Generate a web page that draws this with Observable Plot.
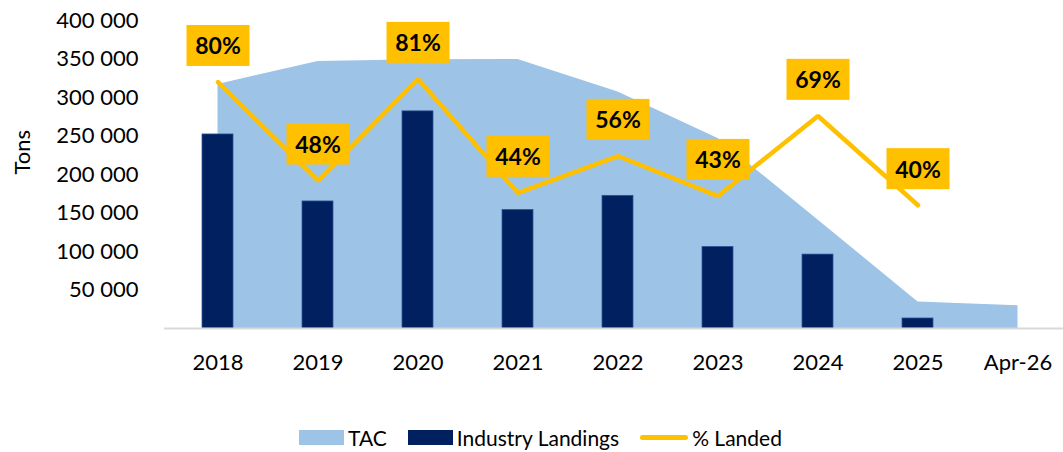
<!DOCTYPE html>
<html><head><meta charset="utf-8">
<script src="https://cdn.jsdelivr.net/npm/d3@7"></script>
<script src="https://cdn.jsdelivr.net/npm/@observablehq/plot@0.6"></script>
<style>
body{margin:0;background:#fff;overflow:hidden;font-family:Lato,"Open Sans",sans-serif;}
#legend{height:34px;display:flex;align-items:center;padding-left:299px;font-size:21px;color:#000;}
#legend .sw{display:inline-block;width:45px;height:15px;margin-right:4px;}
#legend .ln{display:inline-block;width:48px;height:5px;border-radius:3px;margin-right:4px;}
#legend .item{display:flex;align-items:center;margin-right:21px;}
</style></head><body>
<div id="chart"></div>
<div id="legend"></div>
<script>
const categories = ["2018","2019","2020","2021","2022","2023","2024","2025","Apr-26"];
const tac = [316900, 346800, 349000, 349400, 307000, 246700, 141000, 34500, 29500];
const landings = [252000, 165000, 282000, 154000, 172300, 106000, 96000, 13000];
const pctLanded = [80, 48, 81, 44, 56, 43, 69, 40];
const yTicks = [50000, 100000, 150000, 200000, 250000, 300000, 350000, 400000];
const seriesNames = ["TAC", "Industry Landings", "% Landed"];

const colTAC = "#9DC3E6", colLand = "#002060", colPct = "#FFC000";
const PCT_TO_TONS = 400000 / 100; // secondary axis 0–100% mapped onto 0–400 000

const tacData = categories.map((c, i) => ({cat: c, v: tac[i]}));
const landData = landings.map((v, i) => ({cat: categories[i], v}));
const pctData = pctLanded.map((p, i) => ({cat: categories[i], p}));
const fmt = d => d3.format(",")(d).replace(/,/g, " ");

const plot = Plot.plot({
  width: 1063, height: 420,
  marginLeft: 164, marginRight: 0, marginTop: 20, marginBottom: 92,
  style: {fontFamily: "Lato, 'Open Sans', sans-serif", fontSize: "22px", color: "#000", background: "#fff"},
  x: {domain: categories, range: [164, 1071], paddingInner: 0.69, paddingOuter: 0.345, label: null},
  y: {domain: [0, 400000], label: null},
  marks: [
    Plot.areaY(tacData, {x: "cat", y: "v", fill: colTAC}),
    Plot.barY(landData, {x: "cat", y: "v", fill: colLand, stroke: "#2F5597", strokeWidth: 0.75}),
    Plot.ruleY([0], {stroke: "#d9d9d9", strokeWidth: 2}),
    Plot.line(pctData, {x: "cat", y: d => d.p * PCT_TO_TONS, stroke: colPct, strokeWidth: 4.5, strokeLinecap: "round", strokeLinejoin: "miter"}),
    Plot.text(pctData, {x: "cat", y: d => d.p * PCT_TO_TONS, dy: -35, text: d => d.p + "%", fontWeight: "bold", fontSize: 23, fill: "#000"}),
    Plot.axisY({ticks: yTicks, tickSize: 0, tickPadding: 26, tickFormat: fmt, label: null, fontSize: 22}),
    Plot.axisX({tickSize: 0, tickPadding: 26, label: null, fontSize: 22}),
    Plot.text(["Tons"], {frameAnchor: "left", dx: -142, rotate: -90, fontSize: 22, fill: "#000"})
  ]
});
document.getElementById("chart").append(plot);

// gold label boxes behind the % labels (same transform as each text)
plot.querySelectorAll("text").forEach(t => {
  if (!/%$/.test(t.textContent.trim())) return;
  const b = t.getBBox();
  const cx = b.x + b.width / 2;
  const cy = b.y + b.height / 2;
  const r = document.createElementNS("http://www.w3.org/2000/svg", "rect");
  r.setAttribute("x", cx - 31.5);
  r.setAttribute("y", cy - 20.5);
  r.setAttribute("width", 63);
  r.setAttribute("height", 41);
  r.setAttribute("fill", colPct);
  if (t.hasAttribute("transform")) r.setAttribute("transform", t.getAttribute("transform"));
  t.parentNode.insertBefore(r, t);
});

// legend
const legend = d3.select("#legend");
const swatches = [
  {name: seriesNames[0], cls: "sw", color: colTAC},
  {name: seriesNames[1], cls: "sw", color: colLand},
  {name: seriesNames[2], cls: "ln", color: colPct}
];
swatches.forEach(s => {
  const it = legend.append("span").attr("class", "item");
  it.append("span").attr("class", s.cls).style("background", s.color);
  it.append("span").text(s.name);
});
</script>
</body></html>
